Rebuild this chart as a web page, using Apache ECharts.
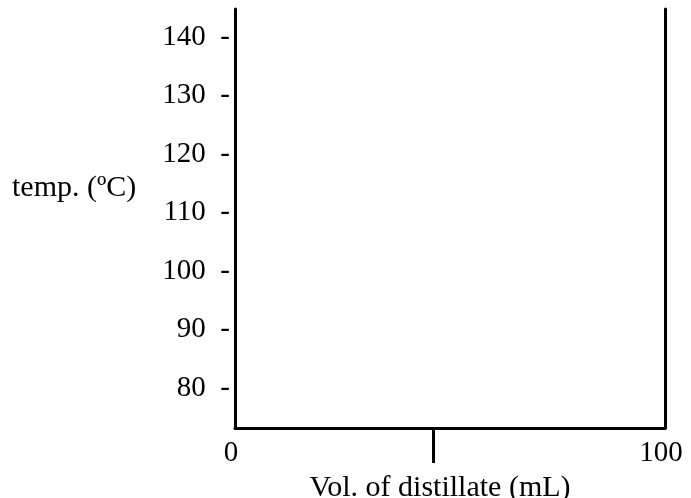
<!DOCTYPE html>
<html>
<head>
<meta charset="utf-8">
<script src="https://cdn.jsdelivr.net/npm/echarts@6/dist/echarts.min.js"></script>
<style>html,body{margin:0;padding:0;background:#fff}#c{width:691px;height:498px}</style>
</head>
<body>
<div id="c"></div>
<script>
const yTickValues = [80, 90, 100, 110, 120, 130, 140];
const xLabelValues = [0, 100];
const xTickValues = [46];
const xName = 'Vol. of distillate (mL)';
const yName = 'temp. (ºC)';
const yRange = [73.2, 144.8];
const xRange = [0, 100];

const font = 'Liberation Serif';
const fs = 29;
const chart = echarts.init(document.getElementById('c'));
chart.setOption({
  animation: false,
  title: {
    text: yName, left: 12, top: 173, padding: 0,
    textStyle: {color: '#000', fontFamily: font, fontSize: 30, fontWeight: 'normal'}
  },
  grid: {left: 235, right: 26, top: 9, bottom: 70, outerBoundsMode: 'none', containLabel: false},
  xAxis: {
    type: 'value', min: xRange[0], max: xRange[1],
    axisLine: {show: true, lineStyle: {color: '#000', width: 3}},
    splitLine: {show: false},
    axisTick: {show: true, customValues: xTickValues, length: 35, lineStyle: {color: '#000', width: 3}},
    axisLabel: {customValues: xLabelValues, color: '#000', fontFamily: font, fontSize: fs, margin: 11, padding: [0, 8, 0, 0]},
    name: xName, nameLocation: 'middle', nameGap: 35,
    nameTextStyle: {color: '#000', fontFamily: font, fontSize: 30, padding: [0, 20, 0, 0]}
  },
  yAxis: [{
    type: 'value', min: yRange[0], max: yRange[1],
    axisLine: {show: true, lineStyle: {color: '#000', width: 3}},
    splitLine: {show: false},
    axisTick: {show: false},
    axisLabel: {customValues: yTickValues, formatter: '{value}  -', color: '#000', fontFamily: font, fontSize: fs, margin: 5}
  }, {
    type: 'value', position: 'right', min: yRange[0], max: yRange[1],
    axisLine: {show: true, lineStyle: {color: '#000', width: 3}},
    splitLine: {show: false}, axisTick: {show: false}, axisLabel: {show: false}
  }],
  series: []
});
</script>
</body>
</html>
